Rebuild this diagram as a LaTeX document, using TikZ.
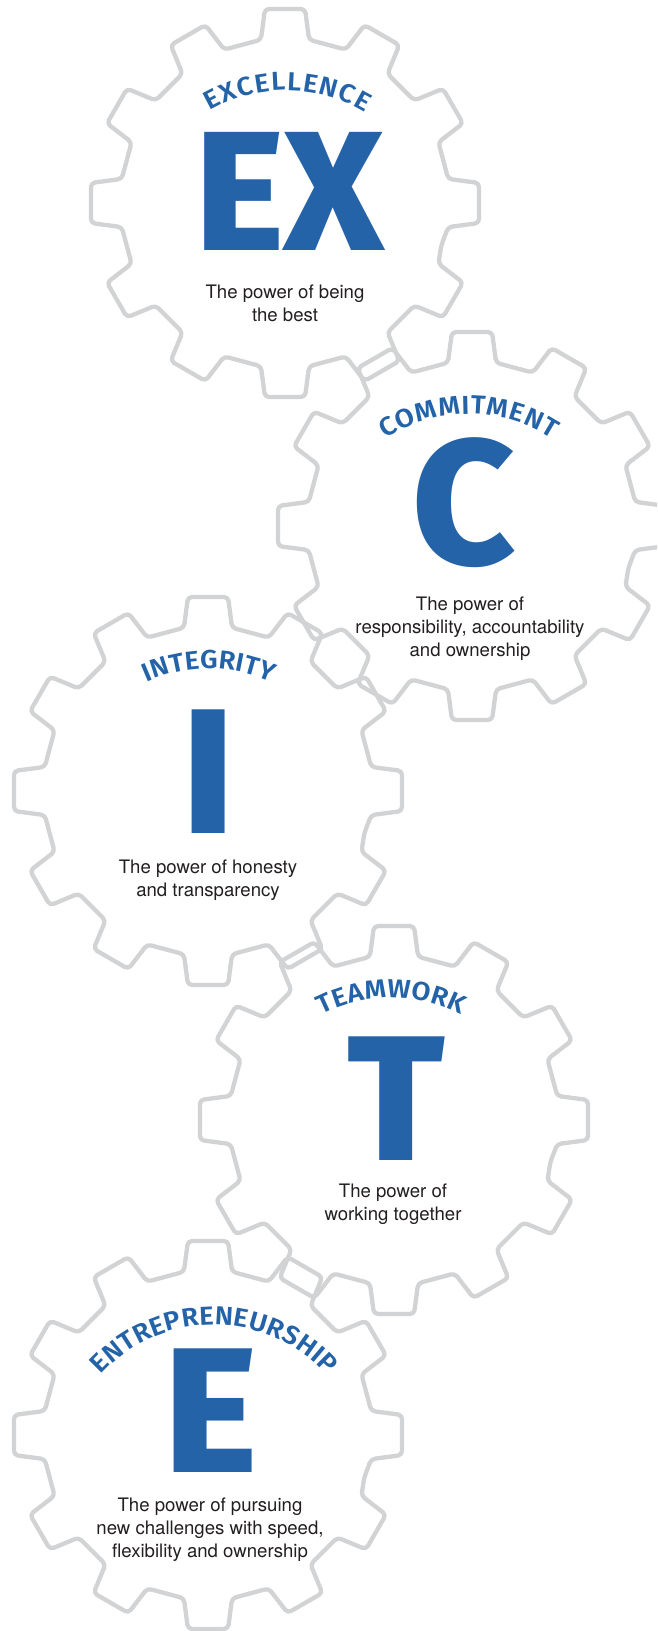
\documentclass[tikz,border=0pt]{standalone}
\usepackage{fontspec}
\usetikzlibrary{decorations.text}
\setmainfont{TeX Gyre Heros}
\IfFontExistsTF{Fira Sans Heavy}
  {\newfontfamily\bigfont{Fira Sans Heavy}}
  {\IfFontExistsTF{Fira Sans ExtraBold}
     {\newfontfamily\bigfont{Fira Sans ExtraBold}}
     {\newfontfamily\bigfont{Fira Sans Bold}[FakeBold=2]}}
\IfFontExistsTF{Fira Sans SemiBold}
  {\newfontfamily\titlefont{Fira Sans SemiBold}[FakeStretch=1.06]}
  {\newfontfamily\titlefont{Fira Sans}[FakeStretch=1.06]}

\definecolor{brand}{HTML}{2463A8}
\definecolor{cog}{HTML}{D1D3D4}
\definecolor{ink}{HTML}{231F20}

% twelve-tooth cog outline centred at (#1,#2)
\newcommand\cogoutline[2]{%
  \draw[cogline] ([shift={(#1,#2)}]-15:161.9)
    \foreach \a in {0,30,...,330}{
      -- ([shift={(#1,#2)}]{\a-8.4}:165)
      -- ([shift={(#1,#2)}]{\a-5.9}:195)
      -- ([shift={(#1,#2)}]{\a+5.9}:195)
      -- ([shift={(#1,#2)}]{\a+8.4}:165)
    } -- cycle;}

% curved title: centre x, centre y, start angle, end angle, word
\newcommand\arctitle[5]{%
  \path[decorate, decoration={text along path,
      text={|\titlefont\fontsize{26}{26}\selectfont\color{brand}|#5},
      text align={fit to path}}]
    ([shift={(#1,#2)}]#3:152) arc[start angle=#3, end angle=#4, radius=152];}

\tikzset{
  cogline/.style={draw=cog, line width=4.3pt, rounded corners=4pt, line join=round},
  initial/.style={anchor=base, text=brand, inner sep=0pt, font=\bigfont\fontsize{178}{178}\selectfont},
  % anchored on the baseline of the last line
  motto/.style={anchor=base, align=center, text=ink, inner sep=0pt, font=\fontsize{18.6}{23}\selectfont},
}

\begin{document}
\begin{tikzpicture}[x=1pt, y=1pt]
\useasboundingbox (0,0) rectangle (657,-1631);
\clip (0,0) rectangle (657,-1631);

% cogs
\cogoutline{285}{-203}
\cogoutline{472}{-526}
\cogoutline{208}{-791}
\cogoutline{394}{-1120}
\cogoutline{208}{-1435}

% Excellence
\arctitle{286}{-242.3}{120.2}{58.6}{EXCELLENCE}
\node[initial, font=\bigfont\fontsize{170}{170}\selectfont] (ex) at (290,-250) {EX};
\node[motto] (exm) at (285,-321) {The power of being\\the best};

% Commitment
\arctitle{469}{-566}{123.2}{56.8}{COMMITMENT}
\node[initial] (c) at (464,-564) {C};
\node[motto] (cm) at (470,-656) {The power of\\responsibility, accountability\\and ownership};

% Integrity
\arctitle{209}{-820.7}{114.4}{65.6}{INTEGRITY}
\node[initial] (i) at (208.5,-833) {I};
\node[motto] (im) at (208,-896) {The power of honesty\\and transparency};

% Teamwork
\arctitle{391.7}{-1150}{117.3}{62.7}{TEAMWORK}
\node[initial] (t) at (396,-1160) {T};
\node[motto] (tm) at (393,-1220) {The power of\\working together};

% Entrepreneurship
\arctitle{214}{-1476.7}{138}{42}{ENTREPRENEURSHIP}
\node[initial] (e) at (211,-1472) {E};
\node[motto] (em) at (210,-1557) {The power of pursuing\\new challenges with speed,\\flexibility and ownership};
\end{tikzpicture}
\end{document}
